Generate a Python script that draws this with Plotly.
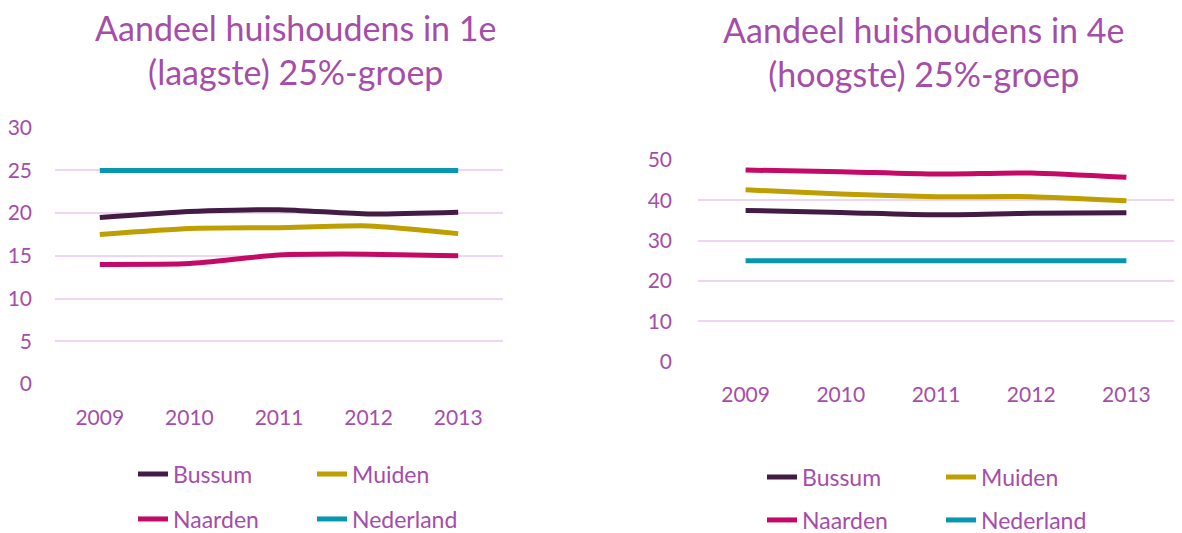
import plotly.graph_objects as go

years = ["2009", "2010", "2011", "2012", "2013"]
series_names = ["Bussum", "Muiden", "Naarden", "Nederland"]

low_bussum = [19.5, 20.2, 20.4, 19.9, 20.1]
low_muiden = [17.5, 18.2, 18.3, 18.5, 17.6]
low_naarden = [14.0, 14.1, 15.1, 15.2, 15.0]
low_nederland = [25, 25, 25, 25, 25]

high_bussum = [37.5, 37.0, 36.4, 36.8, 36.9]
high_muiden = [42.6, 41.6, 40.9, 40.9, 39.9]
high_naarden = [47.5, 47.1, 46.5, 46.8, 45.7]
high_nederland = [25, 25, 25, 25, 25]

title_left = "Aandeel huishoudens in 1e<br>(laagste) 25%-groep"
title_right = "Aandeel huishoudens in 4e<br>(hoogste) 25%-groep"

colors = {"Bussum": "#441B45", "Muiden": "#BE9E00", "Naarden": "#C40A66", "Nederland": "#0896B0"}
text_color = "#A54DAA"
grid_color = "#EFD6F0"
font_family = "Lato, Noto Sans, sans-serif"

fig = go.Figure()

left_data = {"Bussum": low_bussum, "Muiden": low_muiden, "Naarden": low_naarden, "Nederland": low_nederland}
right_data = {"Bussum": high_bussum, "Muiden": high_muiden, "Naarden": high_naarden, "Nederland": high_nederland}

legend_map_left = {"Bussum": "legend", "Muiden": "legend", "Naarden": "legend2", "Nederland": "legend2"}
legend_map_right = {"Bussum": "legend3", "Muiden": "legend3", "Naarden": "legend4", "Nederland": "legend4"}

for name in series_names:
    fig.add_trace(go.Scatter(
        x=years, y=left_data[name], name=name, mode="lines",
        line=dict(color=colors[name], width=5, shape="spline", smoothing=0.6),
        xaxis="x", yaxis="y", legend=legend_map_left[name], hoverinfo="skip"))
for name in series_names:
    fig.add_trace(go.Scatter(
        x=years, y=right_data[name], name=name, mode="lines",
        line=dict(color=colors[name], width=5, shape="spline", smoothing=0.6),
        xaxis="x2", yaxis="y2", legend=legend_map_right[name], hoverinfo="skip"))

# page body has an 8px margin; figure is sized to fill the rest of the window
OFF = 8
W, H = 1182 - OFF, 533 - OFF

def px_x(v):
    return (v - OFF) / W

def px_y(v):
    return 1 - (v - OFF) / H

axis_font = dict(family=font_family, size=21, color=text_color)

common_x = dict(type="category", showgrid=False, showline=False, zeroline=False,
                ticks="", tickfont=axis_font, ticklabelstandoff=18, fixedrange=True,
                range=[-0.5, 4.5])
common_y = dict(showgrid=True, gridcolor=grid_color, gridwidth=1.5, showline=False,
                zeroline=False, ticks="", tickfont=axis_font, fixedrange=True)

legend_common = dict(orientation="h", entrywidth=134, entrywidthmode="pixels",
                     font=dict(family=font_family, size=23, color=text_color),
                     bgcolor="rgba(0,0,0,0)", xanchor="left", yanchor="middle",
                     itemclick=False, itemdoubleclick=False, tracegroupgap=0)

pad = 0.1
fig.update_layout(
    width=W, height=H,
    margin=dict(l=0, r=0, t=0, b=0, autoexpand=False),
    paper_bgcolor="white", plot_bgcolor="white",
    font=dict(family=font_family, color=text_color),
    xaxis=dict(domain=[px_x(55), px_x(503)], anchor="y", **common_x),
    yaxis=dict(domain=[px_y(384 + pad * 8.54), px_y(127.7 - pad * 8.54)], range=[-pad, 30 + pad],
               tickvals=[0, 5, 10, 15, 20, 25, 30], anchor="x", ticklabelstandoff=22, **common_y),
    xaxis2=dict(domain=[px_x(698), px_x(1174)], anchor="y2", **common_x),
    yaxis2=dict(domain=[px_y(361.7 + pad * 4.03), px_y(160 - pad * 4.03)], range=[-pad, 50 + pad],
                tickvals=[0, 10, 20, 30, 40, 50], anchor="x2", ticklabelstandoff=25, **common_y),
    legend=dict(x=px_x(133), y=px_y(474), **legend_common),
    legend2=dict(x=px_x(133), y=px_y(519), **legend_common),
    legend3=dict(x=px_x(762), y=px_y(477), **legend_common),
    legend4=dict(x=px_x(762), y=px_y(520), **legend_common),
    annotations=[
        dict(text=title_left, x=px_x(295), y=px_y(50), xref="paper", yref="paper",
             xanchor="center", yanchor="middle", showarrow=False, align="center",
             font=dict(family=font_family, size=34, color=text_color)),
        dict(text=title_right, x=px_x(923), y=px_y(52), xref="paper", yref="paper",
             xanchor="center", yanchor="middle", showarrow=False, align="center",
             font=dict(family=font_family, size=34, color=text_color)),
    ],
)

fig.write_html("out.html")
